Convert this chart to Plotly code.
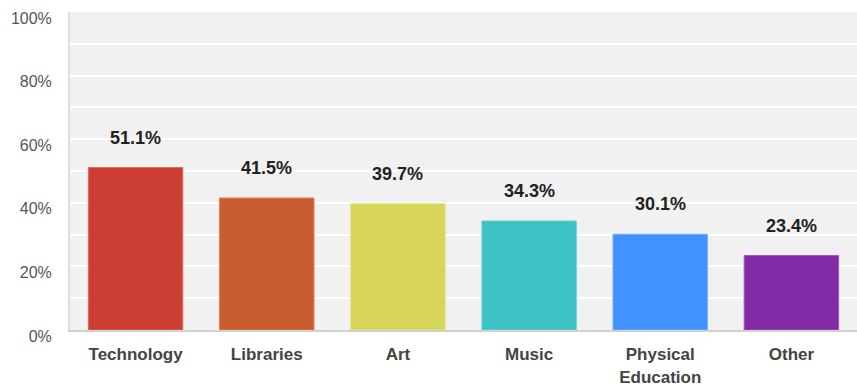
import plotly.graph_objects as go

# Survey results by program area
categories = ["Technology", "Libraries", "Art", "Music", "Physical<br>Education", "Other"]
percentages = [51.1, 41.5, 39.7, 34.3, 30.1, 23.4]
bar_colors = ["#CC3D34", "#CA5D30", "#D6D55A", "#3DC3C5", "#4191FF", "#8229A5"]
edge_colors = ["#DD6A62", "#DB8057", "#E3E27F", "#6DD3D5", "#6FAEFF", "#9F55BE"]
y_ticks = [0, 20, 40, 60, 80, 100]

FONT = "Arial, Liberation Sans, sans-serif"

fig = go.Figure(
    go.Bar(
        x=categories,
        y=percentages,
        marker=dict(color=bar_colors, line=dict(color=edge_colors, width=1)),
        hoverinfo="skip",
    )
)

# Value labels above each bar
for cat, val in zip(categories, percentages):
    fig.add_annotation(
        x=cat, y=val, text=f"<b>{val:.1f}%</b>",
        showarrow=False, yanchor="middle", yshift=30,
        font=dict(family=FONT, size=18, color="#222222"),
    )

fig.update_layout(
    width=857, height=387,
    margin=dict(l=70, r=0, t=12, b=57),
    paper_bgcolor="white",
    plot_bgcolor="#F1F1F1",
    bargap=0.28,
    showlegend=False,
    font=dict(family=FONT),
)

fig.update_xaxes(
    automargin=False,
    showline=True, linecolor="#D0D0D0", linewidth=2,
    showgrid=False, ticks="",
    tickfont=dict(family=FONT, size=17, color="#444444"),
    ticklabelstandoff=8,
    tickprefix="<b>", ticksuffix="</b>",
)

fig.update_yaxes(
    automargin=False,
    range=[0, 100],
    tickvals=y_ticks, ticktext=[f"{v}%" for v in y_ticks],
    showline=True, linecolor="#DDDDDD", linewidth=2,
    showgrid=True, gridcolor="white", gridwidth=2,
    minor=dict(dtick=10, showgrid=True, gridcolor="white", gridwidth=2),
    zeroline=False, ticks="",
    tickfont=dict(family=FONT, size=16, color="#555555"),
    ticklabelstandoff=13,
    ticklabelshift=6,
)

fig.write_html("out.html")
